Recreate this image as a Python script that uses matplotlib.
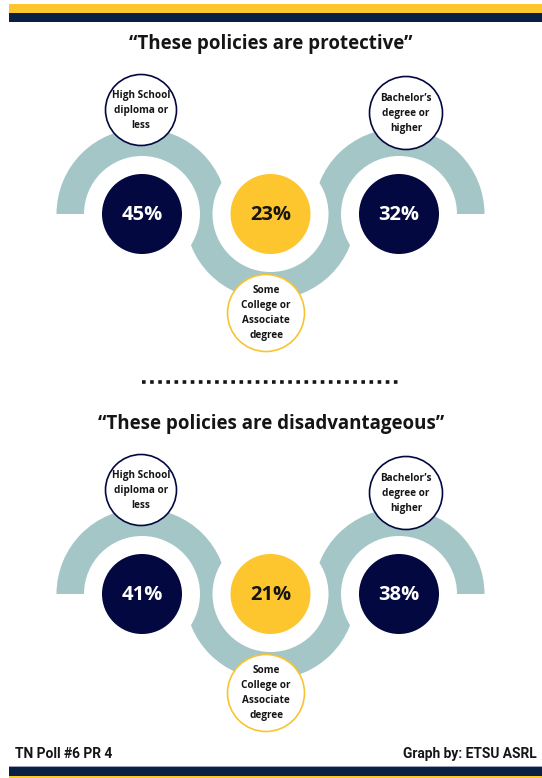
import matplotlib
matplotlib.use("Agg")
import matplotlib.pyplot as plt
from matplotlib.patches import Circle, Wedge, Rectangle

# education groups and the share agreeing with each statement
groups = ["High School\ndiploma or\nless",
          "Some\nCollege or\nAssociate\ndegree",
          "Bachelor’s\ndegree or\nhigher"]
protective = [45, 23, 32]
disadvantageous = [41, 21, 38]
statements = ["“These policies are protective”",
              "“These policies are disadvantageous”"]
footer_left = "TN Poll #6 PR 4"
footer_right = "Graph by: ETSU ASRL"

NAVY = "#030840"
BAND_NAVY = "#0a1f44"
YELLOW = "#fec62e"
TEAL = "#a5c6c7"
INK = "#151515"

W, H = 542, 778
fig = plt.figure(figsize=(W / 100, H / 100), dpi=100)
ax = fig.add_axes([0, 0, 1, 1])
ax.set_xlim(0, W)
ax.set_ylim(H, 0)
ax.axis("off")

# header / footer bands
ax.add_patch(Rectangle((9, 4), W - 9, 8.5, color=YELLOW, lw=0))
ax.add_patch(Rectangle((9, 12.5), W - 9, 9, color=BAND_NAVY, lw=0))
ax.add_patch(Rectangle((9, 765.5), W - 9, 1, color="#9aa4ba", lw=0))
ax.add_patch(Rectangle((9, 766.5), W - 9, 9.5, color=BAND_NAVY, lw=0))
ax.add_patch(Rectangle((9, 776), W - 9, 3, color=YELLOW, lw=0))

xs = [142, 270.5, 399]
r_out, r_in, r_dot = 85.5, 58, 40
# label bubble offsets from each value circle (dx, dy, radius)
bubbles = [(-1, -104, 35.5), (-4.5, 99, 38.5), (7, -101, 36.5)]
edge_cols = [NAVY, "#f7c433", NAVY]


def panel(y0, title, values):
    cy = y0 + 214
    ax.text(271, y0 + 44, title, ha="center", va="center", fontsize=13.5,
            fontweight="bold", family="Open Sans", color=INK)
    # teal S-shaped ribbon: top halves on the sides, bottom half in the middle
    for i, cx in enumerate(xs):
        t1, t2 = (0, 180) if i == 1 else (180, 360)
        ax.add_patch(Wedge((cx, cy), r_out, t1, t2, color=TEAL, lw=0, zorder=1))
    for cx in xs:
        ax.add_patch(Circle((cx, cy), r_in, color="white", lw=0, zorder=2))
    for i, (cx, v) in enumerate(zip(xs, values)):
        fill = YELLOW if i == 1 else NAVY
        ax.add_patch(Circle((cx, cy), r_dot, color=fill, lw=0, zorder=3))
        ax.text(cx, cy + 1, f"{v}%", ha="center", va="center", fontsize=14.5,
                fontweight="bold", family="Open Sans",
                color=INK if i == 1 else "white", zorder=4)
        dx, dy, rb = bubbles[i]
        ax.add_patch(Circle((cx + dx, cy + dy), rb, facecolor="white",
                            edgecolor=edge_cols[i], lw=1.2, zorder=5))
        ax.text(cx + dx, cy + dy, groups[i], ha="center", va="center",
                fontsize=7.2, fontweight="bold", family="Open Sans",
                color=INK, linespacing=1.5, zorder=6)


panel(0, statements[0], protective)
panel(380, statements[1], disadvantageous)

# dotted divider
ax.plot([142, 398], [381.5, 381.5], color=INK, lw=2.6, dashes=(1, 1.25),
        dash_capstyle="butt", solid_capstyle="butt")

ax.text(15, 754, footer_left, ha="left", va="center", fontsize=9.9,
        family="Roboto", fontweight="bold", color=INK)
ax.text(537, 754, footer_right, ha="right", va="center", fontsize=9.9,
        family="Roboto", fontweight="bold", color=INK)

fig.savefig("out.png", dpi=100, facecolor="white")
